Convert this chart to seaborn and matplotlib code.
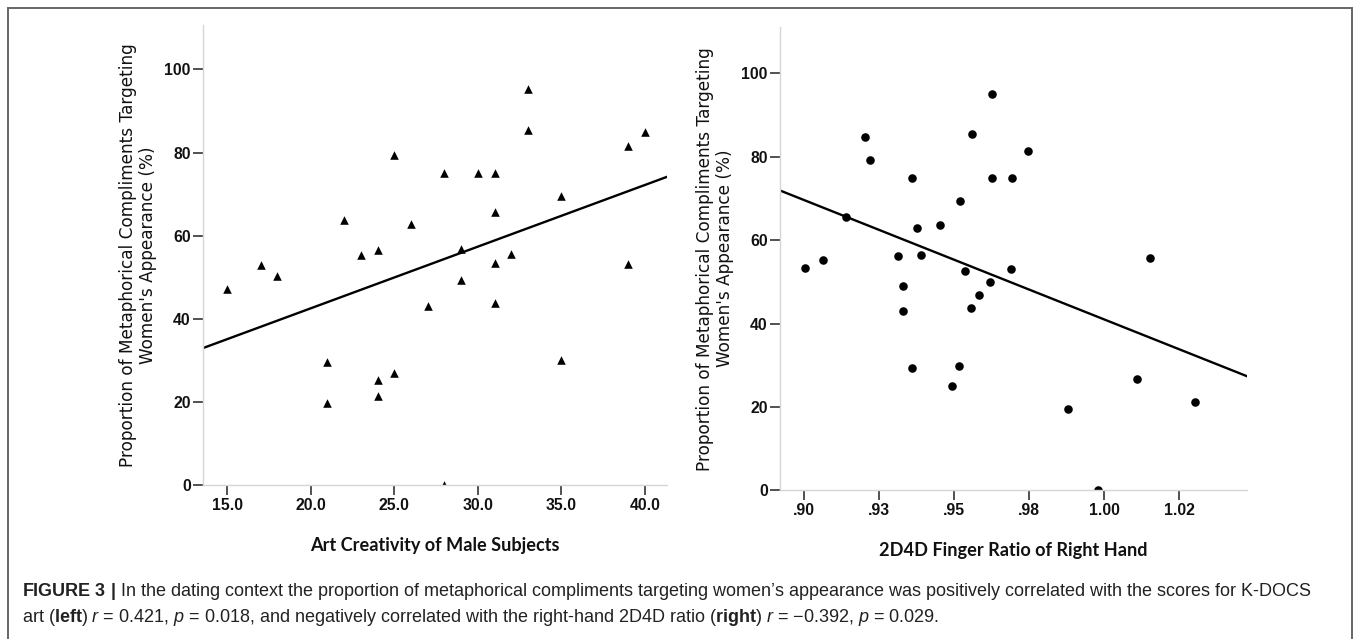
import matplotlib
matplotlib.use("Agg")
import matplotlib.pyplot as plt
import seaborn as sns
import numpy as np
import pandas as pd
from matplotlib.patches import Rectangle

# ---------------- data ----------------
art_x = [15, 17, 18, 21, 21, 22, 23, 24, 24, 24, 25, 25, 26, 27, 28, 28,
         29, 29, 30, 31, 31, 31, 31, 32, 33, 33, 35, 35, 39, 39, 40]
art_y = [47.1, 52.9, 50.2, 29.5, 19.8, 63.8, 55.4, 56.5, 25.2, 21.4, 79.3,
         26.9, 62.9, 43.1, 75.1, 0.0, 56.7, 49.3, 75.1, 75.1, 65.6, 53.3,
         43.7, 55.6, 95.2, 85.5, 69.5, 30.0, 81.5, 53.1, 84.9]

ratio_x = [0.9004, 0.9065, 0.9142, 0.9204, 0.9221, 0.9313, 0.9329, 0.9329,
           0.9359, 0.9359, 0.9376, 0.9391, 0.9455, 0.9495, 0.9516, 0.9519,
           0.9537, 0.9556, 0.9560, 0.9584, 0.9621, 0.9628, 0.9628, 0.9689,
           0.9694, 0.9748, 0.9879, 0.9981, 1.0110, 1.0152, 1.0304]
ratio_y = [53.3, 55.2, 65.5, 84.8, 79.2, 56.3, 49.1, 42.9, 75.0, 29.3, 62.9,
           56.5, 63.7, 25.1, 29.8, 69.3, 52.7, 43.6, 85.4, 46.9, 50.0, 95.1,
           75.0, 53.0, 75.0, 81.3, 19.5, 0.0, 26.7, 55.6, 21.2]

y_ticks = [0, 20, 40, 60, 80, 100]
y_ticklabels = ["0", "20", "40", "60", "80", "100"]
art_ticks = [15, 20, 25, 30, 35, 40]
art_ticklabels = ["15.0", "20.0", "25.0", "30.0", "35.0", "40.0"]
ratio_ticks = [0.900, 0.925, 0.950, 0.975, 1.000, 1.025]
ratio_ticklabels = [".90", ".93", ".95", ".98", "1.00", "1.02"]

ylabel_text = "Proportion of Metaphorical Compliments Targeting\nWomen's Appearance (%)"
xlabel_left = "Art Creativity of Male Subjects"
xlabel_right = "2D4D Finger Ratio of Right Hand"

caption1 = (r"$\mathbf{FIGURE\ 3\ |}$ In the dating context the proportion of metaphorical "
            "compliments targeting women\u2019s appearance was positively correlated with the scores for K-DOCS")
caption2 = (r"art ($\mathbf{left}$) $r$ = 0.421, $p$ = 0.018, and negatively correlated with the "
            r"right-hand 2D4D ratio ($\mathbf{right}$) $r$ = " "\u2212" r"0.392, $p$ = 0.029.")

# ---------------- style ----------------
sns.set_theme(style="white")
plt.rcParams["font.family"] = ["DejaVu Sans"]
plt.rcParams["mathtext.fontset"] = "custom"
plt.rcParams["mathtext.rm"] = "Liberation Sans"
plt.rcParams["mathtext.it"] = "Liberation Sans:italic"
plt.rcParams["mathtext.bf"] = "Liberation Sans:bold"

TICK_FONT = ["Liberation Sans", "DejaVu Sans"]
XLAB_FONT = ["Lato", "DejaVu Sans"]

fig = plt.figure(figsize=(13.57, 6.39), dpi=100)
fig.patch.set_facecolor("white")

ax1 = fig.add_axes([0.1497, 0.2410, 0.3420, 0.7193])
ax2 = fig.add_axes([0.5749, 0.2327, 0.3442, 0.7250])

# left panel
ax1.set_xlim(13.56, 41.33)
ax1.set_ylim(0, 110.6)
sns.regplot(x=np.array(art_x), y=np.array(art_y), ax=ax1, ci=None, truncate=False,
            marker="^", color="black",
            scatter_kws={"s": 38, "linewidths": 0, "alpha": 1},
            line_kws={"lw": 1.7, "color": "black"})

# right panel
ax2.set_xlim(0.8921, 1.0477)
ax2.set_ylim(0, 111.1)
sns.regplot(x=np.array(ratio_x), y=np.array(ratio_y), ax=ax2, ci=None, truncate=False,
            marker="o", color="black",
            scatter_kws={"s": 38, "linewidths": 0, "alpha": 1},
            line_kws={"lw": 1.7, "color": "black"})

for ax, xt, xtl, xl in [(ax1, art_ticks, art_ticklabels, xlabel_left),
                        (ax2, ratio_ticks, ratio_ticklabels, xlabel_right)]:
    ax.set_facecolor("white")
    for s in ["top", "right"]:
        ax.spines[s].set_visible(False)
    for s in ["left", "bottom"]:
        ax.spines[s].set_color("#d6d6d6")
        ax.spines[s].set_linewidth(1.0)
    ax.set_xticks(xt)
    ax.set_xticklabels(xtl, fontfamily=TICK_FONT, fontweight="bold", fontsize=11.3)
    ax.set_yticks(y_ticks)
    ax.set_yticklabels(y_ticklabels, fontfamily=TICK_FONT, fontweight="bold", fontsize=11.3)
    ax.tick_params(axis="both", which="major", bottom=True, left=True, direction="out",
                   length=7.5, width=1.1, color="#222222", labelcolor="#111111", pad=1.5)
    ax.set_ylabel(ylabel_text, fontsize=12.2, color="#111111", linespacing=1.12,
                  fontfamily=["DejaVu Sans"])
    ax.yaxis.label.set_va("center")
    ax.set_xlabel(xl, fontsize=13.1, fontweight="bold", color="#111111",
                  fontfamily=XLAB_FONT)
    ax.xaxis.label.set_va("center")
    ax.grid(False)

ax1.yaxis.set_label_coords(-0.1405, 0.5)
ax2.yaxis.set_label_coords(-0.1396, 0.5)
ax1.xaxis.set_label_coords(0.5, -0.132)
ax2.xaxis.set_label_coords(0.5, -0.129)

# caption
fig.text(22 / 1357, 1 - 592 / 639, caption1, fontsize=13.0, color="#222222",
         fontfamily=["Liberation Sans"], va="center", ha="left")
fig.text(22 / 1357, 1 - 617 / 639, caption2, fontsize=13.0, color="#222222",
         fontfamily=["Liberation Sans"], va="center", ha="left")

# outer frame (open at the bottom edge of the image)
fig.patches.append(Rectangle((8 / 1357, -0.05), (1352 - 8) / 1357, (1 - 8 / 639) + 0.05,
                             transform=fig.transFigure, fill=False,
                             edgecolor="#666666", linewidth=1.4, zorder=0))

fig.savefig("out.png", dpi=100, facecolor="white")
